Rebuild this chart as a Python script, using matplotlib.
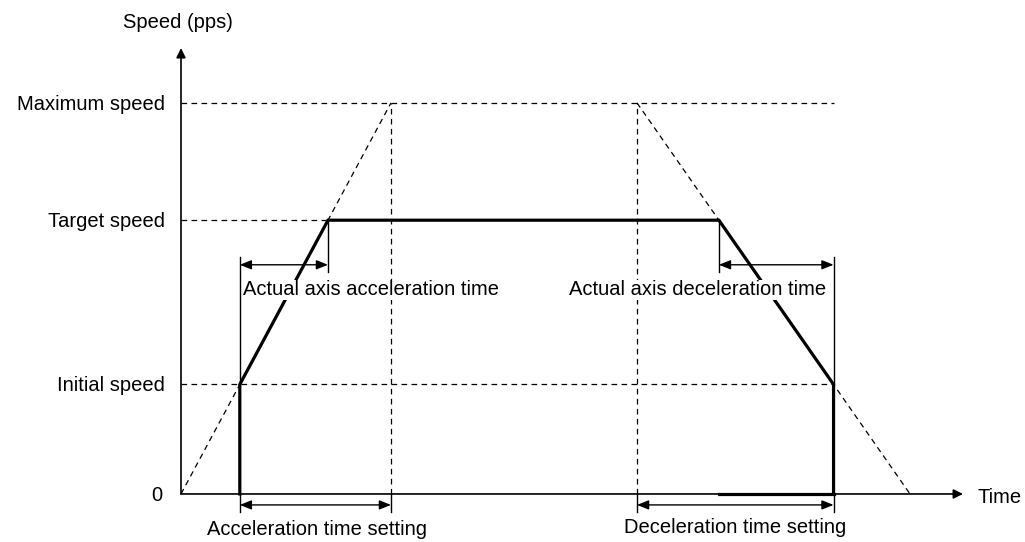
import matplotlib
matplotlib.use("Agg")
import matplotlib.pyplot as plt

# ------------------------------
# Diagram values (speed in % of max, time in ms)
# ------------------------------
max_speed = 100.0
target_speed = 70.0
initial_speed = 28.0

accel_setting = 21.0      # acceleration time setting
decel_start = 45.6        # where deceleration setting begins
decel_setting = 27.3      # deceleration time setting

level_values = [0.0, initial_speed, target_speed, max_speed]
level_labels = ["0", "Initial speed", "Target speed", "Maximum speed"]

# derived corner times
t_init_acc = accel_setting * initial_speed / max_speed
t_targ_acc = accel_setting * target_speed / max_speed
t_targ_dec = decel_start + decel_setting * (1 - target_speed / max_speed)
t_init_dec = decel_start + decel_setting * (1 - initial_speed / max_speed)
t_max_dec = decel_start + decel_setting

plt.rcParams["font.family"] = ["Liberation Sans", "DejaVu Sans"]
FS = 14.5
K = "black"
THICK = 2.3
THIN = 1.0
DASH = dict(color=K, lw=0.9, dashes=[4.5, 3.5])
BOX = dict(fc="white", ec="none", pad=0.6)

fig = plt.figure(figsize=(10.25, 5.42), dpi=100)
ax = fig.add_axes([0, 0, 1, 1])
ax.set_xlim(-18.1, 84.4)
ax.set_ylim(-12.28, 126.3)
ax.axis("off")

# axes arrows
ax.annotate("", xy=(0, 114), xytext=(0, 0),
            arrowprops=dict(arrowstyle="-|>", color=K, lw=1.2,
                            mutation_scale=14, shrinkA=0, shrinkB=0))
ax.annotate("", xy=(78.2, 0), xytext=(0, 0),
            arrowprops=dict(arrowstyle="-|>", color=K, lw=1.2,
                            mutation_scale=14, shrinkA=0, shrinkB=0))

# dashed reference lines
ax.plot([0, t_init_dec], [max_speed, max_speed], **DASH)
ax.plot([0, t_targ_acc], [target_speed, target_speed], **DASH)
ax.plot([0, t_init_dec], [initial_speed, initial_speed], **DASH)
ax.plot([0, accel_setting], [0, max_speed], **DASH)
ax.plot([decel_start, t_max_dec], [max_speed, 0], **DASH)
ax.plot([accel_setting, accel_setting], [0, max_speed], **DASH)
ax.plot([decel_start, decel_start], [0, max_speed], **DASH)

# actual speed profile
ax.plot([t_init_acc, t_init_acc, t_targ_acc, t_targ_dec, t_init_dec, t_init_dec],
        [0, initial_speed, target_speed, target_speed, initial_speed, 0],
        color=K, lw=THICK, solid_joinstyle="miter")
ax.plot([t_targ_dec, t_init_dec], [0, 0], color=K, lw=THICK)

# thin extension lines
top_ext = 60.6
low_ext = -4.6
ax.plot([t_init_acc, t_init_acc], [initial_speed, top_ext], color=K, lw=THIN)
ax.plot([t_init_dec, t_init_dec], [initial_speed, top_ext], color=K, lw=THIN)
ax.plot([t_targ_acc, t_targ_acc], [target_speed, 56.8], color=K, lw=THIN)
ax.plot([t_targ_dec, t_targ_dec], [target_speed, 56.8], color=K, lw=THIN)
for t in [t_init_acc, accel_setting, decel_start, t_init_dec]:
    ax.plot([t, t], [0, low_ext], color=K, lw=THIN)

# dimension arrows
arr = dict(arrowstyle="<|-|>,head_length=0.5,head_width=0.2", color=K, lw=THIN,
           mutation_scale=14, shrinkA=0, shrinkB=0)
ax.annotate("", xy=(t_init_acc, 58.6), xytext=(t_targ_acc, 58.6), arrowprops=arr)
ax.annotate("", xy=(t_targ_dec, 58.6), xytext=(t_init_dec, 58.6), arrowprops=arr)
ax.annotate("", xy=(t_init_acc, -2.8), xytext=(accel_setting, -2.8), arrowprops=arr)
ax.annotate("", xy=(decel_start, -2.8), xytext=(t_init_dec, -2.8), arrowprops=arr)

# texts
for v, lab in zip(level_values, level_labels):
    dx = -1.9 if lab == "0" else -1.6
    ax.text(dx, v - 0.3, lab, ha="right", va="center", fontsize=FS)
ax.text(5.2, 120.5, "Speed (pps)", ha="right", va="center", fontsize=FS)
ax.text(79.6, -0.8, "Time", ha="left", va="center", fontsize=FS)
ax.text(6.2, 52.2, "Actual axis acceleration time", ha="left", va="center",
        fontsize=FS, bbox=BOX, zorder=5)
ax.text(64.5, 52.2, "Actual axis deceleration time", ha="right", va="center",
        fontsize=FS, bbox=BOX, zorder=5)
ax.text(13.6, -9.2, "Acceleration time setting", ha="center", va="center", fontsize=FS)
ax.text(55.4, -8.5, "Deceleration time setting", ha="center", va="center", fontsize=FS)

fig.savefig("out.png", dpi=100)
